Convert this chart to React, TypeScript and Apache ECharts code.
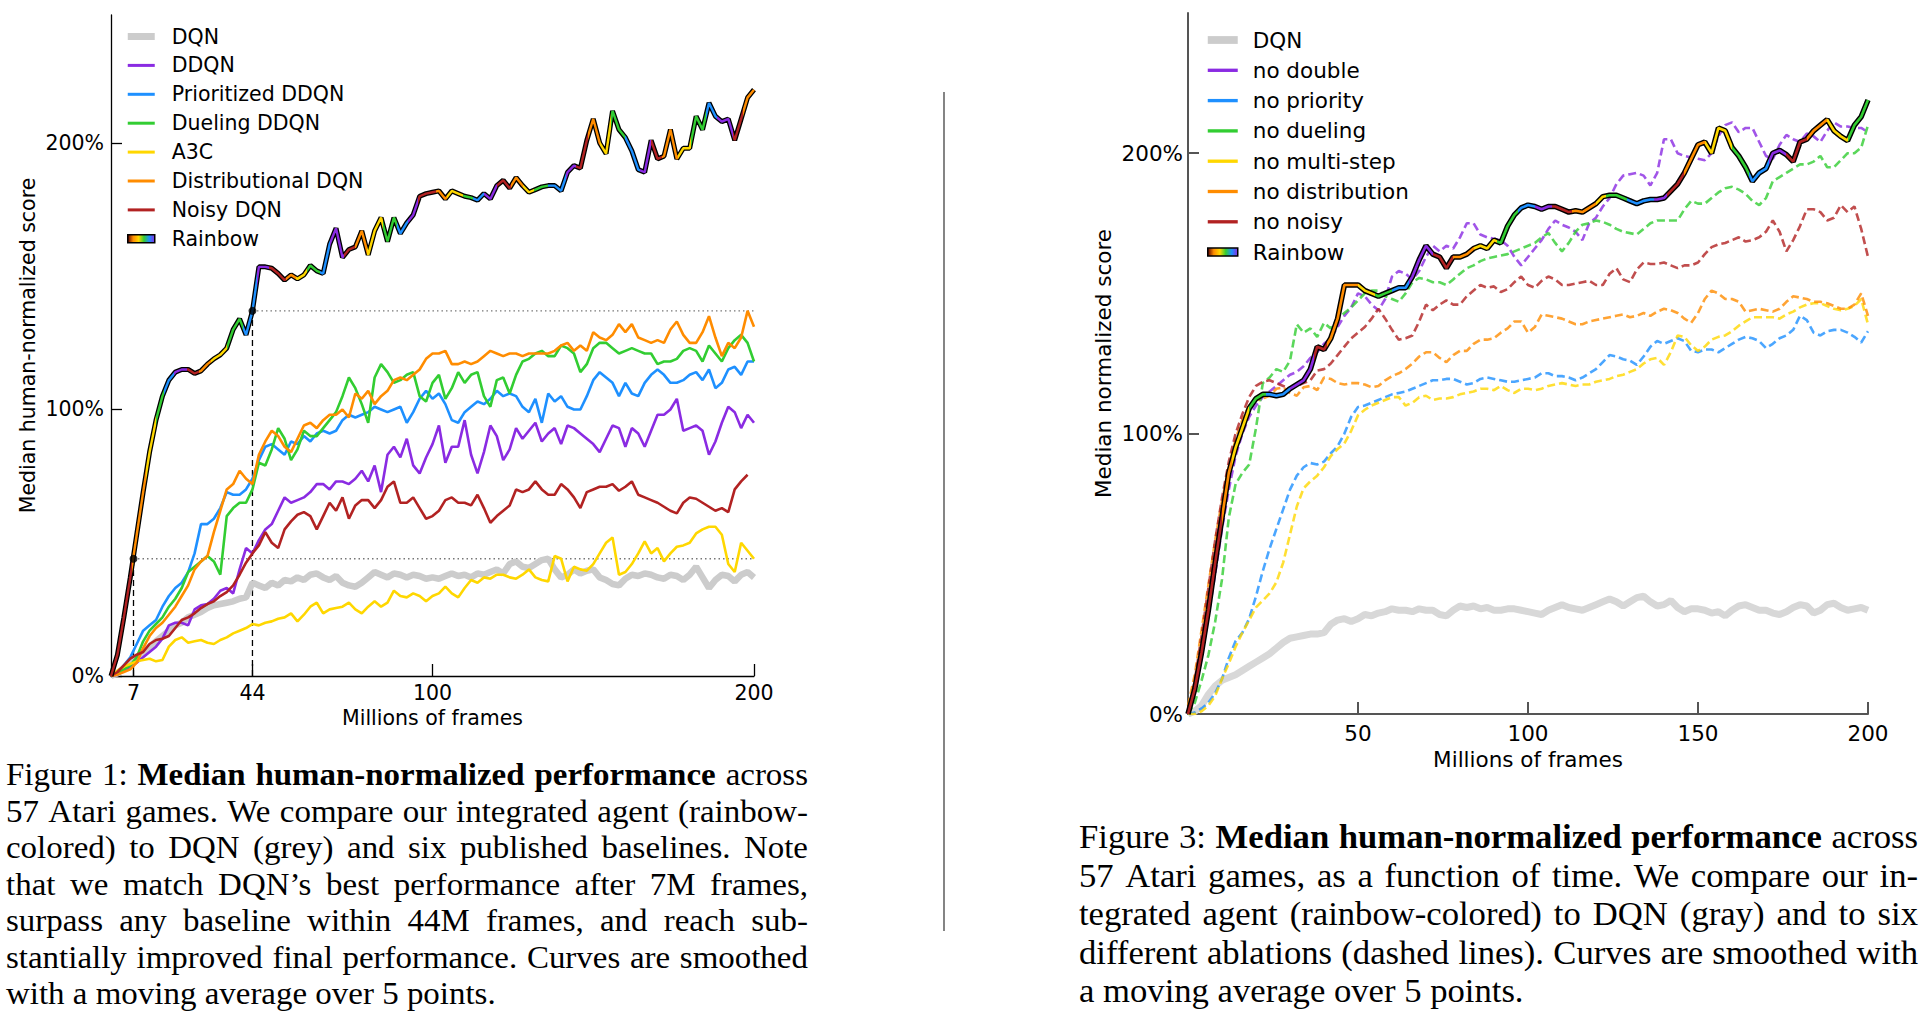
import React, { useEffect, useRef } from 'react';
import * as echarts from 'echarts';

// ---------- x positions (millions of frames), one sample every 2M ----------
const FRAMES: number[] = Array.from({ length: 101 }, (_, i) => i * 2);

// ---------- Figure 1 (left) : median human-normalized score, % ----------
const L_DQN = [
  0, 1, 3, 5, 7, 9, 11, 13, 15, 17,
  19, 20, 22, 23, 24, 25.5, 26.5, 27, 27.5, 28,
  29, 29.5, 35, 34, 33, 35, 34, 36, 35.5, 37,
  36, 38, 38.5, 37, 36, 37.5, 35, 34, 33.5, 35,
  37, 39, 38, 37, 38.5, 38, 37, 38, 37.5, 36.5,
  37, 36.5, 37.5, 38.5, 37.5, 38, 37, 38.5, 38, 39,
  40, 38.5, 42, 43, 41, 40.5, 42, 43.5, 44, 40,
  37, 38, 40, 38.5, 39.5, 40, 37, 36, 34.5, 34,
  36.5, 38, 37.5, 38.5, 38, 37, 36.5, 38, 37.5, 36,
  38, 41, 37, 33, 36, 38, 37.5, 35.5, 38, 39,
  37,
];
const L_DDQN = [
  0, 0.5, 2, 3.5, 5, 7, 9, 11, 14, 19,
  20, 20, 19, 25, 26.5, 27, 29, 32, 33, 31,
  40, 48, 46, 51, 55, 57, 62, 67, 65, 66,
  67, 69, 72, 72, 70, 73, 73, 72, 74, 77,
  73, 79, 69, 83, 86, 82, 89, 79, 76, 82,
  87, 94, 80, 86, 86, 96, 83, 76, 84, 94,
  90, 81, 85, 93, 89, 92, 95, 88, 91, 93,
  87, 94, 93, 91, 89, 87, 84, 89, 94, 93,
  86, 93, 91, 86, 92, 98, 98, 100, 104, 92,
  93, 94, 92, 83, 88, 95, 101, 99, 93, 98,
  95,
];
const L_PRIORITIZED = [
  0, 1, 4, 7, 12, 17, 19, 21, 26, 30,
  33, 35, 39, 46, 57, 57, 59, 63, 69, 68,
  68, 70, 74, 81, 86, 87, 85, 83, 88, 87,
  90, 88, 91, 92, 91, 92, 96, 98, 97, 98,
  99, 101, 100, 99, 100, 101, 95, 99, 104, 107,
  104, 106, 102, 96, 95, 99, 101, 103, 102, 104,
  107, 105, 106, 105, 101, 99, 104, 95, 106, 103,
  105, 101, 100, 100, 105, 111, 114, 112, 110, 105,
  110, 106, 105, 110, 113, 115, 113, 110, 110, 111,
  113, 114, 111, 115, 108, 110, 115, 116, 113, 118,
  118,
];
const L_DUELING = [
  0, 1, 2.5, 4, 7, 13, 17, 19.5, 22, 26,
  29, 33, 39, 41, 43, 45, 43, 38, 60, 63,
  65, 65, 70, 80, 79, 85, 93, 89, 81, 85,
  92, 90, 90, 93, 96, 99, 105, 112, 108, 102,
  95, 112, 117, 114, 110, 111, 113, 114, 105, 103,
  110, 113, 104, 108, 114, 110, 113, 114, 105, 101,
  111, 112, 106, 113, 118, 119, 121, 122, 120, 120,
  124, 123, 121, 114, 117, 123, 125, 125, 123, 121,
  122, 123, 122, 121, 121, 117, 118, 118, 119, 122,
  123, 122, 118, 124, 121, 118, 123, 126, 128, 125,
  118,
];
const L_A3C = [
  0, 2, 3.5, 4.5, 5.5, 6, 6.5, 5.5, 6, 11,
  13.5, 14.5, 12.5, 13, 13.5, 12.5, 12, 13.5, 14.5, 16,
  17, 18, 19.5, 19, 20, 20.5, 21.5, 22, 23.5, 20.5,
  23, 26, 27.5, 23.5, 25, 25.5, 26, 27.5, 25, 23.5,
  26, 28, 26, 27.5, 32, 30, 29.5, 31, 30, 28,
  30, 31, 33.5, 31, 29.5, 33, 36, 35, 37, 36.5,
  38, 38, 37, 36.5, 38, 40, 37, 36, 35.5, 45,
  44, 35.5, 41, 40, 39.5, 42, 46, 50, 52, 38,
  39, 42, 46, 50.5, 46, 48, 43, 46, 48.5, 49,
  50, 53.5, 55, 56, 56, 53, 42, 39, 50, 47,
  44,
];
const L_DISTRIBUTIONAL = [
  0, 0.5, 1.5, 2.5, 5, 10.5, 15, 18, 20, 23,
  26, 30, 34, 40, 43, 45, 54, 62, 70, 72,
  77, 74, 72, 83, 88, 92, 90, 86, 84, 89,
  94, 95, 93, 96, 98, 98, 100, 97, 106, 104,
  107, 102, 105, 107, 111, 112, 111, 113, 115, 119,
  121, 121, 122, 117, 117, 118, 117, 118, 120, 122,
  121, 120, 121, 121, 120, 121, 121, 121, 121, 122,
  124, 125, 122, 124, 122, 129, 127, 126, 128, 132,
  129, 132, 127, 126, 125, 126, 125, 130, 133, 128,
  125, 125, 129, 135, 127, 120, 125, 123, 127, 137,
  131,
];
const L_NOISY = [
  0, 1.5, 4, 6.5, 8, 9, 12, 13.5, 14, 15,
  18, 21, 22, 23.5, 25.5, 27, 28, 30, 31.5, 34,
  38, 42.5, 46, 49, 54, 50, 48, 55, 58, 60.5,
  61.5, 60, 55, 60, 65, 62, 67, 59, 64, 66,
  66, 63, 66, 71, 73, 65, 65, 67, 63, 59,
  60, 62, 66, 67, 65, 65, 64, 68, 63, 57.5,
  60, 62, 64, 70, 69, 70, 73, 70, 68, 68,
  72, 70, 67, 63, 69, 70, 71, 71, 72, 69.5,
  71, 73, 68, 67, 66, 65, 63.5, 62, 61, 65,
  67, 66.5, 65, 63.5, 62, 63, 61.5, 70, 73, 75.5,
  null,
];
const L_RAINBOW = [
  0, 8, 22, 37, 53, 69, 84, 96, 105, 111,
  114, 115, 115, 113.5, 114.5, 117, 119, 120.5, 123, 130,
  134, 128, 137, 153.5, 153.5, 153, 151, 148.5, 150.5, 149,
  150.5, 154, 152, 151, 162, 168, 157, 160, 161, 167,
  158, 167, 172, 163, 172, 166, 170, 173, 180, 181,
  181.5, 182, 179, 182, 181, 180, 179.5, 178.5, 181, 179,
  184, 186, 183, 187, 184, 181.5, 182.5, 183.5, 184, 184,
  182, 189, 191.5, 190.5, 201, 209, 200, 196, 212, 205,
  202, 197, 190, 189, 201, 194, 195, 205, 194, 198,
  198, 210, 205, 215, 210, 208, 209, 201, 209, 217,
  220,
];
// annotations of Figure 1
const MATCH_DQN_AT = 7;       // M frames
const SURPASS_AT = 44;        // M frames
const DQN_BEST = 44;          // %
const BASELINE_BEST = 137;    // %

// ---------- Figure 3 (right) : median normalized score, % ----------
const R_DQN = [
  0, 1, 3, 7, 10, 12, 13, 14, 15.5, 17,
  18.5, 20, 21.5, 23.5, 25.5, 27, 27.5, 28, 28.5, 28.5,
  29, 32, 33.5, 34, 33, 34, 35.5, 35, 36, 36.5,
  37.5, 37, 37, 36.5, 37.5, 37, 37, 35.5, 35, 37,
  38.5, 38, 38.5, 37.5, 38, 37, 37, 37.5, 37.5, 37,
  36.5, 36, 35.5, 37, 38, 39, 38, 37.5, 37, 38,
  39, 40, 41, 40, 38.5, 40, 41.5, 42, 40, 38.5,
  39, 40.5, 38, 36.5, 37.5, 37.5, 37, 36, 36.5, 35,
  37, 38.5, 39, 38, 37, 37, 36, 35.5, 36.5, 38,
  39, 38.5, 36, 37, 39, 39.5, 38, 37, 37.5, 38,
  37,
];
const R_NO_DOUBLE = [
  0, 8, 20, 35, 50, 66, 80, 92, 100, 106,
  110, 113, 115, 117, 119, 121, 122, 124, 127, 129,
  132, 134, 138, 142, 145, 150, 149, 146, 144, 148,
  156, 158, 157, 155, 158, 163, 167, 165, 167, 166,
  170, 175, 175, 171, 170, 169.5, 169, 167, 163, 160,
  163, 166, 169, 173, 176, 174.5, 173.5, 172, 169, 175,
  177, 181, 184, 189, 192, 192.5, 193, 192, 188.5, 193,
  205, 205, 200, 199, 198.5, 198, 197.5, 200, 206, 210,
  211, 207.5, 209, 209, 204, 199, 198, 203, 206.5, 205,
  204, 207, 206, 204, 208, 211, 209.5, 209.5, 209, 209,
  207.5,
];
const R_NO_PRIORITY = [
  0, 0.5, 2, 4, 7.5, 12.5, 20, 26, 29, 34,
  42, 51, 59, 66, 73, 80, 85, 88, 89.5, 89,
  90, 93, 95.5, 100, 106, 109.5, 110, 111, 112, 113,
  114, 114.5, 115, 116, 117, 118, 119, 119, 119.5, 119.5,
  118.5, 117.5, 118, 119.5, 120, 119.5, 119, 118.5, 118.5, 119,
  119.5, 120, 121.5, 121.5, 120.5, 120.5, 120, 119, 120, 121.5,
  123, 125.5, 128, 127.5, 126.5, 126, 124.5, 127.5, 131, 133,
  132, 133, 134, 133, 129.5, 129, 130, 130, 129, 130.5,
  132, 133.5, 134.5, 134, 133, 130.5, 132, 134, 135, 137,
  142, 140.5, 136, 135, 136.5, 137, 137, 136, 134.5, 132.5,
  136.5,
];
const R_NO_DUELING = [
  0, 4, 12, 21, 33, 48, 70, 82, 86, 89,
  102, 118, 120, 123, 122, 126, 139, 136, 137.5, 134.5,
  139.5, 137.5, 141, 143, 145, 147.5, 150, 151, 151, 149,
  148, 147, 150, 154, 155.5, 155, 154, 154, 153, 155,
  157, 159, 160, 161.5, 162.5, 163, 163.5, 164, 165, 166,
  167, 168, 170, 171.5, 168, 165, 168, 172, 174.5, 175,
  176, 175.5, 174.5, 173, 172, 171.5, 171, 173, 175, 176,
  176, 176, 176, 180, 183, 182, 182, 184, 186, 187.5,
  188, 187, 185.5, 183, 181.5, 184, 190, 191.5, 193, 194.5,
  196, 196, 197, 199, 195, 195, 197.5, 200, 200, 202,
  210,
];
const R_NO_MULTISTEP = [
  0, 0, 1, 3, 6.5, 12.5, 18, 24, 29, 33.5,
  38, 40.5, 43, 47, 54, 64, 74, 80.5, 83, 85,
  88, 92, 94.5, 96.5, 101, 106.5, 108.5, 110, 111, 112,
  113, 113, 110, 111, 113, 113.5, 112, 112.5, 112.5, 113,
  114, 114.5, 115, 116, 116, 115.5, 117, 115.5, 114.5, 116,
  116, 115.5, 116, 117, 117.5, 118, 117.5, 117, 117.5, 117.5,
  118.5, 119, 119.5, 120.5, 121, 122, 123, 125, 126.5, 127,
  124.5, 129, 135, 134.5, 131.5, 129.5, 131, 133.5, 134.5, 135,
  136.5, 138.5, 140, 141.5, 141.5, 141.5, 141.5, 141, 142.5, 143.5,
  145, 146, 146.5, 146.5, 145.5, 144.5, 144, 144.5, 145.5, 148,
  139,
];
const R_NO_DISTRIBUTION = [
  3, 14, 30, 46, 62, 76, 88, 98, 105, 110,
  112, 112.5, 113.5, 116, 116.5, 114.5, 113.5, 116.5, 117, 115.5,
  120, 119.5, 118, 117.5, 118, 118, 117.5, 116.5, 117, 119,
  120.5, 121.5, 123, 125, 127.5, 129, 129, 127, 125.5, 128,
  129.5, 129.5, 132, 133.5, 133.5, 134, 136, 137.5, 140, 140,
  136, 138, 142.5, 142, 141.5, 141, 140, 139, 139, 140,
  140.5, 141, 141.5, 142, 142.5, 141.5, 142, 143, 142, 143.5,
  144.5, 144, 143, 141, 139.5, 143, 148, 151, 150, 148,
  148, 147, 143.5, 144, 144.5, 144, 143.5, 144.5, 147, 149,
  148.5, 148, 147, 147, 146.5, 145.5, 144.5, 144.5, 146, 150,
  142,
];
const R_NO_NOISY = [
  0, 12, 28, 45, 62, 77, 90, 100, 107, 113,
  117, 118.5, 119, 118, 117, 116, 117, 118, 119, 122.5,
  123, 125, 128, 131, 134, 136, 138, 141, 144.5, 141,
  137, 133.5, 134, 135, 140, 146, 144, 146, 147.5, 146,
  146, 149, 151, 153, 152, 152.5, 150.5, 151.5, 154, 156,
  153, 152, 154.5, 156, 155, 153, 153, 153.5, 154, 154.5,
  153, 153, 157, 159, 155, 154, 158.5, 161, 160.5, 160.5,
  161, 160, 159, 160, 160, 161, 164, 166.5, 167.5, 168,
  169, 170, 168.5, 169, 170, 172, 176, 172, 165, 169,
  174, 180, 180, 179, 176, 177, 181.5, 179, 181, 173,
  163,
];
const R_RAINBOW = [
  0, 9, 22, 37, 54, 70, 86, 95, 102, 109,
  112.5, 114, 114, 113.5, 114, 116, 117.5, 119, 123, 131,
  130, 134, 141, 153, 153, 153, 151, 150, 149, 150,
  151, 152, 152, 156, 162, 167, 164, 163, 159, 163,
  163, 164, 166, 167, 166, 169, 168, 174, 178, 180.5,
  181.5, 181, 180, 181, 181, 180, 179, 179.5, 179, 180.5,
  182, 184.5, 185, 185, 184, 183, 182, 183, 183.5, 183.5,
  184, 186.5, 189, 193, 198, 203, 204, 200, 209, 208,
  202, 199, 195, 190, 193, 194.5, 200, 201, 199.5, 197,
  204, 205, 208, 210, 212, 208, 206, 204.5, 210, 213,
  219,
];

// ---------- ticks ----------
const L_X_TICKS = [7, 44, 100, 200];
const R_X_TICKS = [50, 100, 150, 200];
const Y_TICKS = [0, 100, 200];

// ---------- style ----------
const C = {
  dqnL: '#cccccc', dqnR: '#d8d8d8', purple: '#8a2be2', blue: '#1e90ff', green: '#32cd32',
  yellow: '#ffd700', orange: '#ff8c00', red: '#b22222',
};
const RAINBOW_CYCLE = [C.red, C.orange, C.yellow, C.green, C.blue, C.purple];
// x positions (M frames) where the colour of the rainbow curve changes
const L_RAINBOW_BREAKS = [6.5, 11, 14, 16.5, 19.5, 23.5, 27.5, 31, 36, 41, 45.5, 49, 54.5, 57.5, 61, 65, 68, 72.5, 76, 79.5, 84.5, 89, 92.5, 95.5, 101, 104.5, 109.5, 112.5, 116, 120, 124.5, 128, 131.5, 136, 141.5, 144.5, 148.5, 152, 155.5, 160, 164.5, 168, 171.5, 176.5, 180.5, 185, 188.5, 193.5, 196.5];
const R_RAINBOW_BREAKS = [10, 13, 18, 23, 30, 37, 41, 50, 55, 60, 65, 72, 78, 84, 91, 97, 102, 107, 113, 120, 123, 129, 137, 141, 146, 152, 160, 165, 171, 176, 182, 188, 194];

const CAPTION_1 = [
  'Figure 1: *Median *human-normalized *performance across',
  '57 Atari games. We compare our integrated agent (rainbow-',
  'colored) to DQN (grey) and six published baselines. Note',
  'that we match DQN\u2019s best performance after 7M frames,',
  'surpass any baseline within 44M frames, and reach sub-',
  'stantially improved final performance. Curves are smoothed',
  'with a moving average over 5 points.',
];
const CAPTION_3 = [
  'Figure 3: *Median *human-normalized *performance across',
  '57 Atari games, as a function of time. We compare our in-',
  'tegrated agent (rainbow-colored) to DQN (gray) and to six',
  'different ablations (dashed lines). Curves are smoothed with',
  'a moving average over 5 points.',
];

const SANS = 'DejaVu Sans';
const SERIF = 'Liberation Serif';

function rainbowGradient(breaks: number[]) {
  const stops: { offset: number; color: string }[] = [];
  for (let i = 0; i <= breaks.length; i++) {
    const c = RAINBOW_CYCLE[i % 6];
    const s = i === 0 ? 0 : breaks[i - 1] / 200;
    const e = i === breaks.length ? 1 : breaks[i] / 200;
    stops.push({ offset: s, color: c }, { offset: e, color: c });
  }
  return new echarts.graphic.LinearGradient(0, 0, 1, 0, stops);
}

function line(name: string, ys: (number | null)[], color: any, width: number, idx: number, extra: any = {}) {
  return {
    name,
    type: 'line',
    xAxisIndex: idx,
    yAxisIndex: idx,
    data: FRAMES.map((x, i) => [x, ys[i]]),
    showSymbol: false,
    symbol: 'none',
    silent: true,
    color: typeof color === 'string' ? color : '#000',
    lineStyle: { color, width, ...(extra.lineStyle || {}) },
    emphasis: { disabled: true },
    z: extra.z ?? 2,
  };
}

function segment(pts: number[][], idx: number, lineStyle: any) {
  return {
    type: 'line', xAxisIndex: idx, yAxisIndex: idx, data: pts, symbol: 'none', showSymbol: false,
    silent: true, lineStyle, emphasis: { disabled: true }, z: 1,
  };
}

function captionGraphics(lines: string[], left: number, right: number, baselines: number[], fs: number, sx: number) {
  const ctx = document.createElement('canvas').getContext('2d')!;
  const els: any[] = [];
  lines.forEach((ln, li) => {
    const words = ln.split(' ').map((w) => ({ text: w.replace(/^\*/, ''), bold: w.startsWith('*') }));
    const widths = words.map((w) => {
      ctx.font = `${w.bold ? 'bold ' : ''}${fs}px "${SERIF}"`;
      return ctx.measureText(w.text).width * sx;
    });
    ctx.font = `${fs}px "${SERIF}"`;
    const space = ctx.measureText(' ').width * sx;
    const total = widths.reduce((a, b) => a + b, 0);
    const last = li === lines.length - 1;
    const gap = last ? space : (right - left - total) / (words.length - 1);
    let x = left;
    words.forEach((w, i) => {
      els.push({
        type: 'text', x, y: baselines[li] - 0.3375 * fs, scaleX: sx, silent: true,
        style: {
          text: w.text, fontSize: fs, fontFamily: SERIF, fontWeight: w.bold ? 'bold' : 'normal',
          fill: '#000', align: 'left', verticalAlign: 'middle',
        },
      });
      x += widths[i] + gap;
    });
  });
  return els;
}

function axisX(idx: number, ticks: number[], axisColor: string, axisWidth: number, fs: number, margin: number, nameGap: number) {
  return {
    gridIndex: idx, type: 'value', min: 0, max: 200,
    axisLine: { show: true, onZero: false, lineStyle: { color: axisColor, width: axisWidth } },
    axisTick: { show: true, inside: true, length: 12, customValues: ticks, lineStyle: { color: axisColor, width: axisWidth } },
    axisLabel: { customValues: ticks, margin, color: '#000', fontSize: fs, fontFamily: SANS },
    splitLine: { show: false },
    name: 'Millions of frames', nameLocation: 'middle', nameGap,
    nameTextStyle: { color: '#000', fontSize: fs, fontFamily: SANS },
  };
}
function axisY(idx: number, name: string, max: number, axisColor: string, axisWidth: number, fs: number, margin: number, nameGap: number) {
  return {
    gridIndex: idx, type: 'value', min: 0, max,
    axisLine: { show: true, onZero: false, lineStyle: { color: axisColor, width: axisWidth } },
    axisTick: { show: true, inside: true, length: 11, customValues: Y_TICKS, lineStyle: { color: axisColor, width: axisWidth } },
    axisLabel: { customValues: Y_TICKS, formatter: '{value}%', margin, color: '#000', fontSize: fs, fontFamily: SANS },
    splitLine: { show: false },
    name, nameLocation: 'middle', nameGap,
    nameTextStyle: { color: '#000', fontSize: fs, fontFamily: SANS },
  };
}

function buildOption() {
  const legendRainbow = new echarts.graphic.LinearGradient(0, 0, 1, 0, [
    { offset: 0, color: '#5a0000' }, { offset: 0.2, color: C.orange }, { offset: 0.4, color: C.yellow },
    { offset: 0.6, color: C.green }, { offset: 0.8, color: C.blue }, { offset: 1, color: C.purple },
  ]);
  const ICON_THICK = 'path://M0,0H27V7H0Z';
  const ICON_LINE = 'path://M0,0H27V3H0Z';
  const rainbowLegend = { name: 'Rainbow', icon: 'rect', itemStyle: { color: legendRainbow, borderColor: '#000', borderWidth: 1.5 } };

  const leftNames = ['DDQN', 'Prioritized DDQN', 'Dueling DDQN', 'A3C', 'Distributional DQN', 'Noisy DQN'];
  const rightNames = ['no double', 'no priority', 'no dueling', 'no multi-step', 'no distribution', 'no noisy'];
  const dash = { type: [8, 4], opacity: 0.8 };

  const series: any[] = [
    // ---- Figure 1 ----
    line('DQN', L_DQN, C.dqnL, 6.5, 0),
    segment([[MATCH_DQN_AT, 0], [MATCH_DQN_AT, DQN_BEST]], 0, { color: '#000', width: 1.3, type: [6, 4] }),
    segment([[SURPASS_AT, 0], [SURPASS_AT, BASELINE_BEST]], 0, { color: '#000', width: 1.3, type: [6, 4] }),
    segment([[MATCH_DQN_AT, DQN_BEST], [200, DQN_BEST]], 0, { color: '#777', width: 1.3, type: [1.5, 3] }),
    segment([[SURPASS_AT, BASELINE_BEST], [200, BASELINE_BEST]], 0, { color: '#777', width: 1.3, type: [1.5, 3] }),
    line('DDQN', L_DDQN, C.purple, 2.6, 0),
    line('Prioritized DDQN', L_PRIORITIZED, C.blue, 2.6, 0),
    line('Dueling DDQN', L_DUELING, C.green, 2.6, 0),
    line('A3C', L_A3C, C.yellow, 2.6, 0),
    line('Distributional DQN', L_DISTRIBUTIONAL, C.orange, 2.6, 0),
    line('Noisy DQN', L_NOISY, C.red, 2.6, 0),
    line('Rainbow outline', L_RAINBOW, '#000', 5, 0, { z: 3 }),
    line('Rainbow', L_RAINBOW, rainbowGradient(L_RAINBOW_BREAKS), 2.4, 0, { z: 4 }),
    {
      type: 'scatter', xAxisIndex: 0, yAxisIndex: 0, silent: true, z: 5, symbolSize: 8,
      itemStyle: { color: '#000' }, data: [[MATCH_DQN_AT, DQN_BEST], [SURPASS_AT, BASELINE_BEST]],
    },
    // ---- Figure 3 ----
    line('DQN', R_DQN, C.dqnR, 7, 1),
    line('no double', R_NO_DOUBLE, C.purple, 2.6, 1, { lineStyle: dash }),
    line('no priority', R_NO_PRIORITY, C.blue, 2.6, 1, { lineStyle: dash }),
    line('no dueling', R_NO_DUELING, C.green, 2.6, 1, { lineStyle: dash }),
    line('no multi-step', R_NO_MULTISTEP, C.yellow, 2.6, 1, { lineStyle: dash }),
    line('no distribution', R_NO_DISTRIBUTION, C.orange, 2.6, 1, { lineStyle: dash }),
    line('no noisy', R_NO_NOISY, C.red, 2.6, 1, { lineStyle: dash }),
    line('Rainbow outline', R_RAINBOW, '#000', 5.5, 1, { z: 3 }),
    line('Rainbow', R_RAINBOW, rainbowGradient(R_RAINBOW_BREAKS), 2.6, 1, { z: 4 }),
  ];

  const legendBase = {
    orient: 'vertical', selectedMode: false, itemHeight: 8, inactiveColor: '#000', padding: 0,
  };

  return {
    animation: false,
    backgroundColor: '#fff',
    grid: [
      { left: 111, top: 15, width: 643, height: 661 },
      { left: 1188, top: 13, width: 680, height: 701 },
    ],
    xAxis: [
      axisX(0, L_X_TICKS, '#000', 1.3, 20.5, 6, 31),
      axisX(1, R_X_TICKS, '#555', 2, 21.5, 8, 34),
    ],
    yAxis: [
      axisY(0, 'Median human-normalized score', 248, '#000', 1.3, 20.5, 7, 73),
      axisY(1, 'Median normalized score', 250, '#555', 2, 21.5, 5, 74),
    ],
    legend: [
      {
        ...legendBase, left: 127, top: 26, itemWidth: 27, itemGap: 7.9,
        textStyle: { color: '#000', fontSize: 20.5, fontFamily: SANS, padding: [0, 0, 0, 12] },
        data: [
          { name: 'DQN', icon: ICON_THICK },
          ...leftNames.map((n) => ({ name: n, icon: ICON_LINE })),
          rainbowLegend,
        ],
      },
      {
        ...legendBase, left: 1207, top: 29, itemWidth: 30, itemGap: 8.3,
        textStyle: { color: '#000', fontSize: 21.5, fontFamily: SANS, padding: [0, 0, 0, 10] },
        data: [
          { name: 'DQN', icon: ICON_THICK },
          ...rightNames.map((n) => ({ name: n, icon: ICON_LINE })),
          rainbowLegend,
        ],
      },
    ],
    series,
    graphic: [
      { type: 'line', silent: true, shape: { x1: 944, y1: 92, x2: 944, y2: 931 }, style: { stroke: '#333', lineWidth: 1.2 } },
      ...captionGraphics(CAPTION_1, 6, 808, [785, 821.5, 858, 894.5, 931, 967.5, 1004], 32, 1.03),
      ...captionGraphics(CAPTION_3, 1079, 1918, [848, 886.5, 925, 963.5, 1002], 33, 1.05),
    ],
  };
}

export default function App() {
  const ref = useRef<HTMLDivElement>(null);
  useEffect(() => {
    const chart = echarts.init(ref.current!, null, { renderer: 'svg' });
    chart.setOption(buildOption() as any);
    return () => chart.dispose();
  }, []);
  return (
    <div
      ref={ref}
      style={{ position: 'fixed', left: 0, top: 0, width: 1932, height: 1024, background: '#fff' }}
    />
  );
}
